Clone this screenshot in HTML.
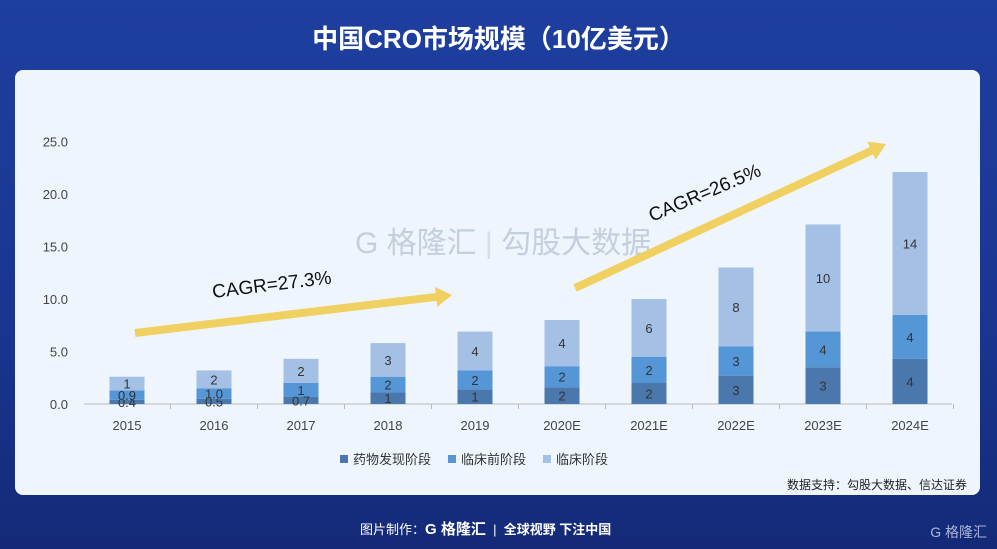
<!DOCTYPE html>
<html><head><meta charset="utf-8"><style>
body{margin:0;width:997px;height:549px;overflow:hidden;background:linear-gradient(180deg,#1d3f9e,#1a3590 60%,#142a78);font-family:"Liberation Sans","Noto Sans CJK SC",sans-serif;position:relative}
#title{position:absolute;top:19px;width:100%;text-align:center;color:#fff;font-size:26px;font-weight:bold}
#card{position:absolute;left:15px;top:70px;width:965px;height:425px;background:#eef5fd;border-radius:8px}
#foot{position:absolute;top:518px;left:360px;color:#fff;font-size:13px}
#wm{position:absolute;left:355px;top:218px;color:#c3cfdd;font-size:30px;white-space:nowrap}
#logo{position:absolute;right:10px;top:522px;color:#aab6d8;font-size:14px}
</style></head><body>
<div id="title">中国CRO市场规模（10亿美元）</div>
<div id="card"></div>
<div id="wm">G 格隆汇 <span style="color:#d5dde8">|</span> 勾股大数据</div>
<svg id="svg" width="997" height="549" style="position:absolute;left:0;top:0"></svg>
<div id="foot">图片制作：<b style="font-size:15px">G 格隆汇</b> &nbsp;| &nbsp;<b>全球视野 下注中国</b></div>
<div id="logo">G 格隆汇</div>
<script>
const categories=["2015","2016","2017","2018","2019","2020E","2021E","2022E","2023E","2024E"];
const discovery=[0.4,0.5,0.7,1.1,1.4,1.6,2.0,2.7,3.5,4.3];
const preclinical=[0.9,1.0,1.3,1.5,1.8,2.0,2.5,2.8,3.4,4.2];
const clinical=[1.3,1.7,2.3,3.2,3.7,4.4,5.5,7.5,10.2,13.6];
const discLabels=["0.4","0.5","0.7","1","1","2","2","3","3","4"];
const preLabels=["0.9","1.0","1","2","2","2","2","3","4","4"];
const clinLabels=["1","2","2","3","4","4","6","8","10","14"];
const yTicks=[0,5,10,15,20,25];
const yTickLabels=["0.0","5.0","10.0","15.0","20.0","25.0"];
const NS="http://www.w3.org/2000/svg",svg=document.getElementById('svg');
const y0=404,pu=10.5,x0=127,dx=87,bw=35;
const Y=v=>y0-v*pu, X=i=>x0+i*dx;
function el(t,a,p){const e=document.createElementNS(NS,t);for(const k in a)e.setAttribute(k,a[k]);(p||svg).appendChild(e);return e;}
yTicks.forEach((t,i)=>{const e=el('text',{x:68,y:Y(t)+5,'text-anchor':'end','font-size':13,fill:'#444'});e.textContent=yTickLabels[i];
});
const ax=el('line',{x1:84,y1:y0,x2:952,y2:y0,stroke:'#bbb'});

const cols=['#4a78ad','#5596d6','#a4c1e5'];
categories.forEach((c,i)=>{
 el('line',{x1:X(i)+dx/2,y1:y0,x2:X(i)+dx/2,y2:y0+5,stroke:'#bbb'});
 const lb=el('text',{x:X(i),y:430,'text-anchor':'middle','font-size':13,fill:'#444'});lb.textContent=c;
 
 let base=0;[[discovery,discLabels],[preclinical,preLabels],[clinical,clinLabels]].forEach((s,k)=>{
  const v=s[0][i];const r=el('rect',{x:X(i)-bw/2,y:Y(base+v),width:bw,height:v*pu,fill:cols[k]});
  
  const tx=el('text',{x:X(i),y:Y(base+v/2)+5,'text-anchor':'middle','font-size':13,fill:'#333'});tx.textContent=s[1][i];
  
  base+=v;});
});
function arrow(x1,y1,x2,y2){const a=Math.atan2(y2-y1,x2-x1),L=Math.hypot(x2-x1,y2-y1);
 const g=el('g',{transform:`translate(${x1},${y1}) rotate(${a*180/Math.PI})`});
 
 el('rect',{x:0,y:-4,width:L-14,height:8,fill:'#f0d060'},g);el('polygon',{points:`${L-16},-10 ${L},0 ${L-16},10`,fill:'#f0d060'},g);}
arrow(135,333,452,295);arrow(575,288,886,144);
function lbl(x,y,r,s){const t=el('text',{x:x,y:y,'font-size':19,fill:'#111',transform:`rotate(${r} ${x} ${y})`});t.textContent=s;
 }
lbl(213,298,-7,'CAGR=27.3%');lbl(652,222,-23,'CAGR=26.5%');
[['药物发现阶段',340],['临床前阶段',448],['临床阶段',543]].forEach((l,k)=>{
 el('rect',{x:l[1],y:455,width:8,height:8,fill:cols[k]});
 const t=el('text',{x:l[1]+13,y:464,'font-size':13,fill:'#333'});t.textContent=l[0];
 });
const src=el('text',{x:967,y:489,'text-anchor':'end','font-size':12,fill:'#222'});src.textContent='数据支持：勾股大数据、信达证券';

</script>
</body></html>
